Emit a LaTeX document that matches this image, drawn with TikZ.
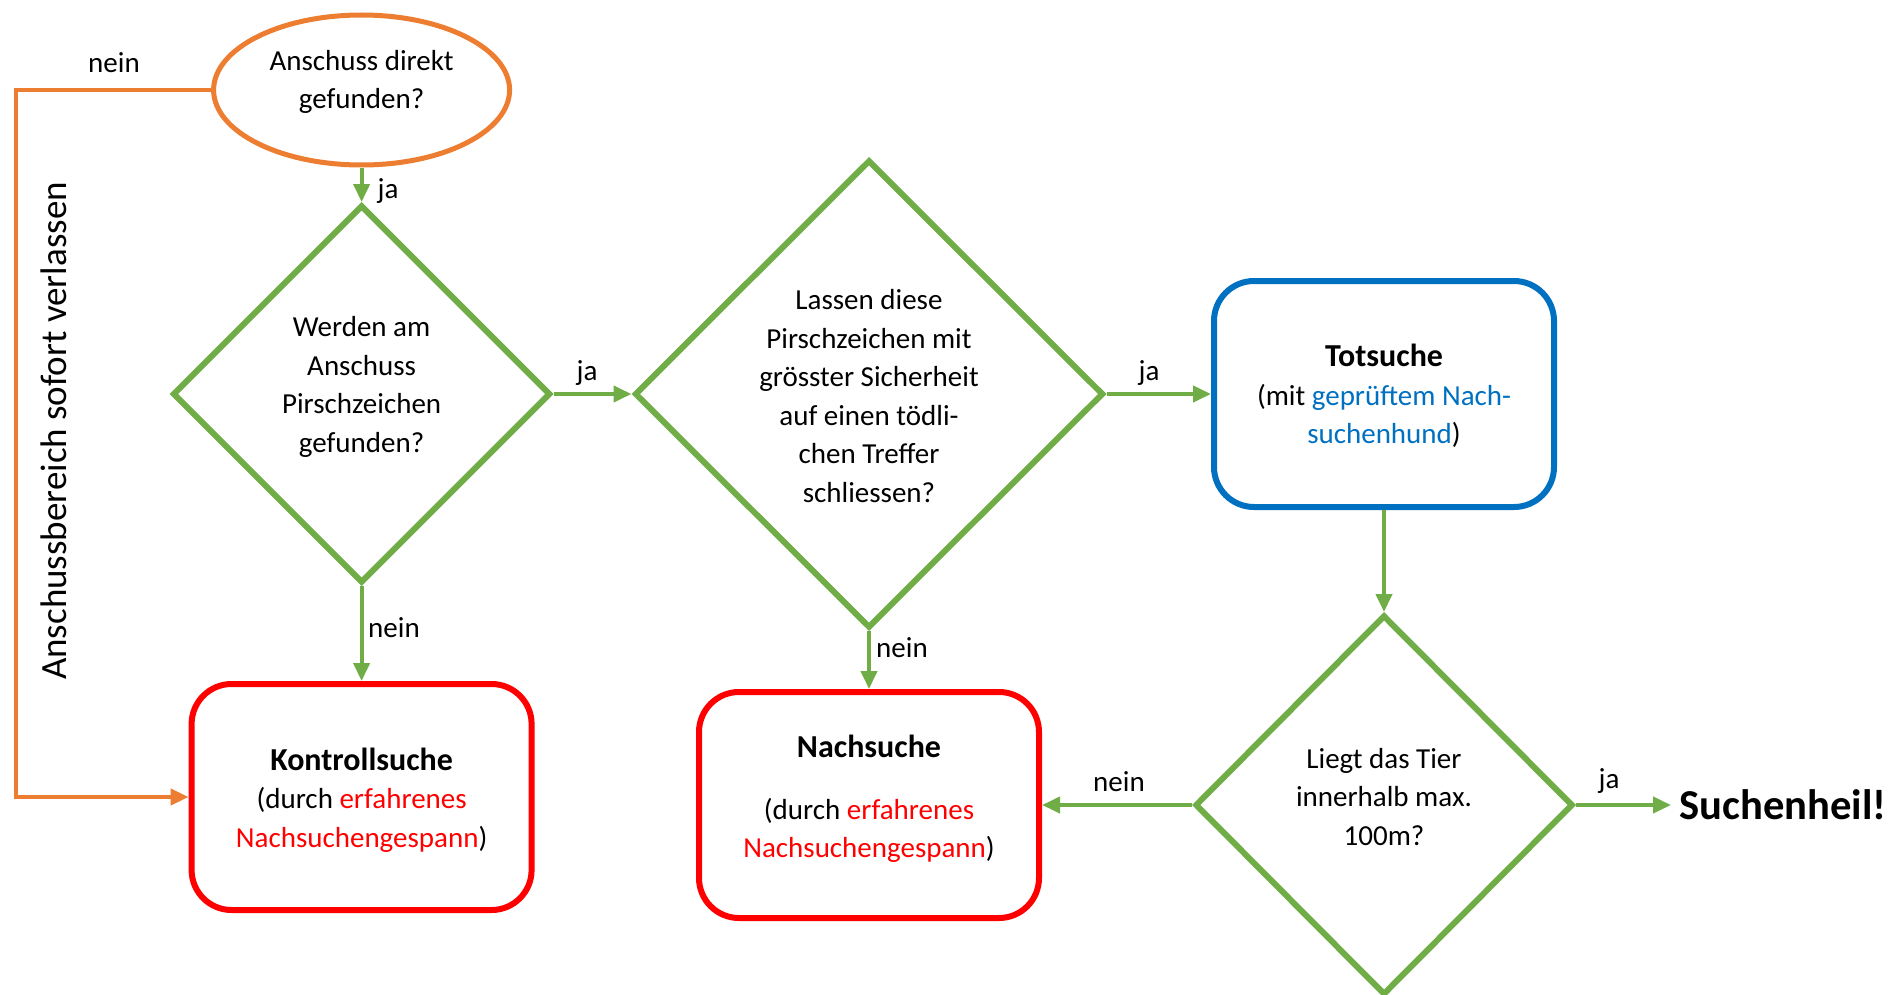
\documentclass[tikz,border=0pt]{standalone}
\usepackage{fontspec}
\setmainfont{Carlito}
\usetikzlibrary{shapes.geometric,arrows.meta}
\definecolor{gorange}{HTML}{ED7D31}
\definecolor{ggreen}{HTML}{70AD47}
\definecolor{gblue}{HTML}{0070C0}
\definecolor{gred}{HTML}{FF0000}
\begin{document}
\begin{tikzpicture}[x=0.5pt,y=-0.5pt,
 body/.style={font=\fontsize{14.5}{19.3}\selectfont, align=center, inner sep=0pt},
 lbl/.style={font=\fontsize{14.5}{19.3}\selectfont, inner sep=0pt},
 dia/.style={diamond, draw=ggreen, line width=3pt, inner sep=0pt},
 rbox/.style={rectangle, rounded corners=20pt, line width=3pt, minimum width=170pt, minimum height=113pt, inner sep=0pt},
 arr/.style={draw=ggreen, line width=2pt, -{Triangle[length=9pt,width=8pt]}},
]
\useasboundingbox (0,0) rectangle (1890,995);

% shapes
\node[ellipse, draw=gorange, line width=2.5pt, minimum width=148pt, minimum height=75pt, inner sep=0pt] (e) at (361.6,90) {};
\node[dia, minimum width=189pt, minimum height=189pt] (d1) at (361.6,394) {};
\node[dia, minimum width=234.5pt, minimum height=234pt] (d2) at (869,394) {};
\node[dia, minimum width=189pt, minimum height=190pt] (d3) at (1384,805) {};
\node[rbox, draw=gblue] (tot) at (1384,394) {};
\node[rbox, draw=gred] (k) at (361.6,797) {};
\node[rbox, draw=gred] (n) at (869,805) {};
\node[font=\bfseries\fontsize{21.3}{25}\selectfont, inner sep=4pt, anchor=west] (s) at (1671,805) {Suchenheil!};
\node[rotate=90, font=\fontsize{18.5}{22}\selectfont, inner sep=0pt] (rt) at (54,431) {Anschussbereich sofort verlassen};

% texts
\node[body] (te) at (361.6,82) {Anschuss direkt\\gefunden?};
\node[body] (t1) at (361.6,387) {Werden am\\Anschuss\\Pirschzeichen\\gefunden?};
\node[body] (t2) at (869,396) {Lassen diese\\Pirschzeichen mit\\grösster Sicherheit\\auf einen tödli-\\chen Treffer\\schliessen?};
\node[body] (t3) at (1384,797) {Liegt das Tier\\innerhalb max.\\100m?};
\node[body] (ttot) at (1384,396) {{\bfseries\fontsize{16}{19.3}\selectfont Totsuche}\\(mit \textcolor{gblue}{geprüftem Nach-}\\\textcolor{gblue}{suchenhund})};
\node[body] (tk) at (361.6,800) {{\bfseries\fontsize{16}{19.3}\selectfont Kontrollsuche}\\(durch \textcolor{gred}{erfahrenes}\\\textcolor{gred}{Nachsuchengespann})};
\node[body] (tn) at (869,799) {{\bfseries\fontsize{16}{19.3}\selectfont Nachsuche}\\[11.5pt](durch \textcolor{gred}{erfahrenes}\\\textcolor{gred}{Nachsuchengespann})};

% connectors
\coordinate (oc) at (16,0);
\draw[gorange, line width=2pt, -{Triangle[length=9pt,width=8pt]}] (e.west) -- (e.west -| oc) |- (k.west);
\draw[arr] (e.south) -- (d1.north);
\draw[arr] (d1.east) -- (d2.west);
\draw[arr] (d2.east) -- (tot.west);
\draw[arr] (d1.south) -- (k.north);
\draw[arr] (d2.south) -- (n.north);
\draw[arr] (tot.south) -- (d3.north);
\draw[arr] (d3.west) -- (n.east);
\draw[arr] (d3.east) -- (s.west);

% labels
\node[lbl] (l0) at (114,63) {nein};
\node[lbl] (l1) at (388,191) {ja};
\node[lbl] (l2) at (587,373) {ja};
\node[lbl] (l3) at (1149,373) {ja};
\node[lbl] (l4) at (394,628) {nein};
\node[lbl] (l5) at (902,648) {nein};
\node[lbl] (l6) at (1119,782) {nein};
\node[lbl] (l7) at (1609,781) {ja};
\end{tikzpicture}
\end{document}
